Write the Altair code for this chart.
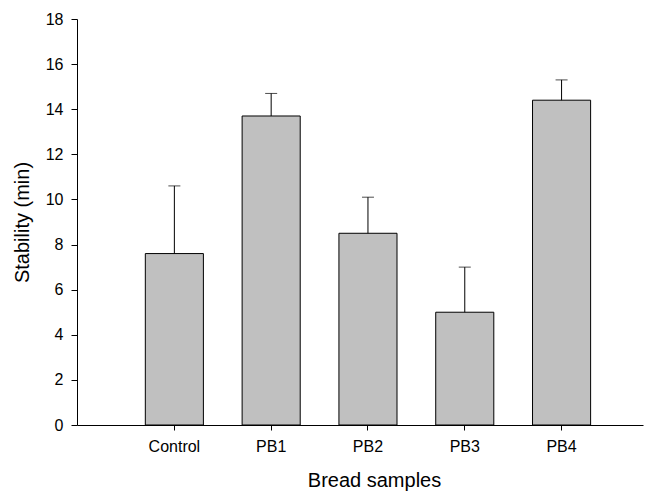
import altair as alt
import pandas as pd

categories = ["Control", "PB1", "PB2", "PB3", "PB4"]
means = [7.6, 13.7, 8.5, 5.0, 14.4]
errors = [3.0, 1.0, 1.6, 2.0, 0.9]
y_ticks = [0, 2, 4, 6, 8, 10, 12, 14, 16, 18]

df = pd.DataFrame({"sample": categories, "mean": means, "err": errors})
df["upper"] = df["mean"] + df["err"]

FONT = "Liberation Sans"

xscale = alt.Scale(domain=categories, paddingInner=0.4, paddingOuter=0.6235, align=0.566)
yscale = alt.Scale(domain=[0, 18], nice=False, zero=True)

x_enc = alt.X(
    "sample:N",
    scale=xscale,
    sort=categories,
    axis=alt.Axis(
        title="Bread samples",
        labelAngle=0,
        tickSize=5,
        labelPadding=8,
        labelFontSize=16,
        titleFontSize=20,
        titleX=297,
        titleY=61,
        titleAlign="center",
        titleBaseline="alphabetic",
    ),
)

base = alt.Chart(df)

bars = base.mark_bar(color="#c0c0c0", stroke="black", strokeWidth=1).encode(
    x=x_enc,
    y=alt.Y(
        "mean:Q",
        scale=yscale,
        axis=alt.Axis(
            title="Stability (min)",
            values=y_ticks,
            tickSize=6,
            labelPadding=8,
            labelFontSize=16,
            titleFontSize=20,
            titleX=-55,
            titleY=203,
            titleAngle=-90,
            titleAlign="center",
            titleBaseline="middle",
        ),
    ),
)

rules = base.mark_rule(color="black", strokeWidth=1).encode(
    x=alt.X("sample:N", scale=xscale, sort=categories),
    y=alt.Y("mean:Q", scale=yscale),
    y2="upper:Q",
)

caps = base.mark_tick(color="black", size=12, thickness=1, orient="horizontal").encode(
    x=alt.X("sample:N", scale=xscale, sort=categories),
    y=alt.Y("upper:Q", scale=yscale),
)

chart = (
    alt.layer(bars, rules, caps)
    .properties(
        width=566,
        height=406,
        autosize=alt.AutoSizeParams(type="none"),
        padding={"left": 69, "top": 11, "right": 5, "bottom": 66},
    )
    .configure_view(stroke=None)
    .configure_axis(
        grid=False,
        domainColor="black",
        domainWidth=1,
        tickColor="black",
        tickWidth=1,
        labelColor="black",
        titleColor="black",
        labelFont=FONT,
        titleFont=FONT,
        titleFontWeight="normal",
    )
)

chart.save("out.html", embed_options={"renderer": "svg", "actions": False})
